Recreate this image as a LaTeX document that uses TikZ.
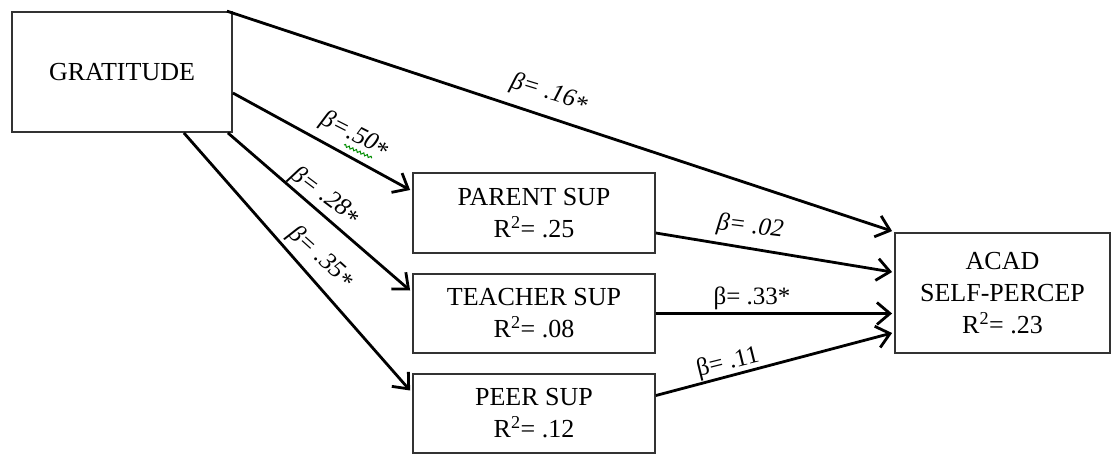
\documentclass[tikz,border=0pt]{standalone}
\usepackage{fontspec}
\setmainfont{Liberation Serif}
\usetikzlibrary{calc,arrows.meta,decorations.pathmorphing}
\newcommand{\myast}{\raisebox{-0.35ex}{*}}
\tikzset{
  box/.style={draw=black!80, line width=1.8pt, fill=white, align=center,
    font=\fontsize{26}{32}\selectfont, inner sep=0pt},
  arr/.style={line width=2.8pt, -{Straight Barb[length=13pt,width=22pt,line width=2.8pt]}},
  lab/.style={font=\fontsize{25}{30}\selectfont, inner sep=0pt},
  ilab/.style={lab, font=\fontsize{25}{30}\selectfont\itshape}
}
\begin{document}
\begin{tikzpicture}[x=1pt,y=-1pt]
\useasboundingbox (0,0) rectangle (1112,455);
\node[box, minimum width=220pt, minimum height=120pt] (g) at (122,72) {GRATITUDE};
\node[box, minimum width=242pt, minimum height=80pt] (parent) at (534,213) {PARENT SUP\\R\textsuperscript{2}= .25};
\node[box, minimum width=242pt, minimum height=79pt] (teacher) at (534,313.5) {TEACHER SUP\\R\textsuperscript{2}= .08};
\node[box, minimum width=242pt, minimum height=79pt] (peer) at (534,413.5) {PEER SUP\\R\textsuperscript{2}= .12};
\node[box, minimum width=215pt, minimum height=120pt] (acad) at (1002.5,293) {ACAD\\SELF-PERCEP\\R\textsuperscript{2}= .23};

\draw[arr] ($(g.north east)+(-6,0)$) -- ($(acad.north west)+(-2,-1)$);
\draw[arr] ($(g.east)+(0,21)$) -- ($(parent.west)+(-2,-23)$);
\draw[arr] ($(g.south east)+(-5,0)$) -- ($(teacher.west)+(-2,-23)$);
\draw[arr] ($(g.south east)+(-49,0)$) -- ($(peer.west)+(-2,-23)$);
\draw[arr] ($(parent.east)+(0,20)$) -- ($(acad.west)+(-2,-21)$);
\draw[arr] (teacher.east) -- ($(acad.west |- teacher.east)+(-2,0)$);
\draw[arr] ($(peer.east)+(0,-18)$) -- ($(acad.west)+(-2,40)$);

\node[ilab, rotate=-17] (l16) at (549,93) {β= .16\myast};
\node[ilab, rotate=-27] (l50) at (355,135) {β=.50\myast};
\node[ilab, rotate=-37] (l28) at (325,196) {β= .28\myast};
\node[ilab, rotate=-42] (l35) at (321,257) {β= .35\myast};
\node[ilab, rotate=-7] (l02) at (750,227) {β= .02};
\node[lab] (l33) at (752,298) {β= .33*};
\node[lab, rotate=14] (l11) at (728,363) {β= .11};
\draw[green!55!black, line width=1pt, decorate, decoration={snake, amplitude=1.2pt, segment length=4pt}] (344,145) -- (372,158);
\end{tikzpicture}
\end{document}
